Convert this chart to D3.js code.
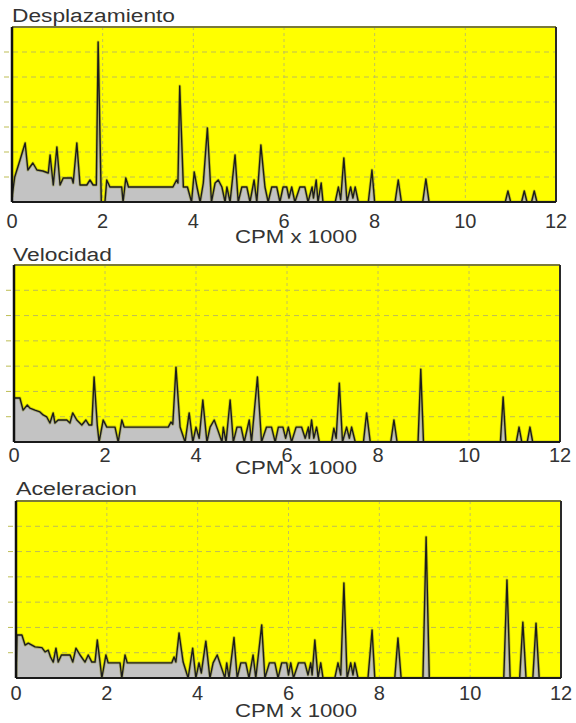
<!DOCTYPE html>
<html>
<head>
<meta charset="utf-8">
<script src="https://cdn.jsdelivr.net/npm/d3@7"></script>
<style>
  body { margin: 0; background: #fff; }
  svg { display: block; font-family: "Liberation Sans", Arial, sans-serif; }
</style>
</head>
<body>
<div id="chart"></div>
<script>
// x tick labels (CPM x 1000)
var xTicks = [0, 2, 4, 6, 8, 10, 12];
var yGridSteps = [1, 2, 3, 4, 5, 6];

// spectra: [CPM x 1000, amplitude in grid divisions]
var desplazamiento = [
  [0,0.2],[0.06,1.0],[0.18,1.7],[0.29,2.36],[0.35,1.28],[0.46,1.56],[0.55,1.28],[0.68,1.24],
  [0.8,1.16],[0.84,1.88],[0.91,0.68],[0.99,2.2],[1.06,0.68],[1.13,0.96],[1.32,0.96],[1.35,0.76],
  [1.43,2.36],[1.5,0.68],[1.65,0.68],[1.72,0.88],[1.79,0.68],[1.86,0.68],[1.9,6.4],[1.97,0],
  [2.05,0],[2.09,0.88],[2.16,0.6],[2.42,0.6],[2.45,0],[2.51,0.96],[2.57,0.6],[3.55,0.6],
  [3.63,0.88],[3.66,0.76],[3.7,4.64],[3.78,0.6],[3.87,0.6],[3.96,0],[4.02,1.2],[4.08,0.6],
  [4.15,0],[4.22,0.76],[4.31,2.96],[4.4,0],[4.48,0.76],[4.55,0.88],[4.63,0.6],[4.7,0],
  [4.74,0.6],[4.81,0],[4.92,1.88],[4.99,0],[5.07,0.6],[5.18,0.6],[5.25,0],[5.34,0.88],
  [5.4,0],[5.49,2.28],[5.58,0.6],[5.65,0],[5.73,0.6],[5.84,0.6],[5.91,0],[5.98,0.6],
  [6.06,0.6],[6.11,0.16],[6.17,0.6],[6.24,0],[6.35,0.6],[6.46,0.6],[6.53,0],[6.62,0.6],
  [6.65,0.16],[6.71,0.88],[6.75,0],[6.82,0.76],[6.86,0],[7.13,0],[7.2,0.6],[7.25,0.1],
  [7.32,1.76],[7.39,0],[7.47,0.6],[7.52,0.16],[7.57,0.6],[7.64,0],[7.86,0],[7.94,1.28],
  [8.0,0],[8.45,0],[8.52,0.88],[8.59,0],[9.06,0],[9.13,0.92],[9.2,0],[10.88,0],
  [10.94,0.44],[11.0,0],[11.24,0],[11.3,0.44],[11.36,0],[11.46,0],[11.52,0.44],[11.58,0],[12,0]
];

var velocidad = [
  [0,1.74],[0.13,1.74],[0.2,1.26],[0.29,1.46],[0.35,1.34],[0.46,1.26],[0.57,1.19],[0.64,1.07],
  [0.72,0.99],[0.79,0.75],[0.86,1.15],[0.9,0.75],[0.97,0.87],[1.16,0.87],[1.23,0.75],[1.29,1.15],
  [1.38,0.87],[1.49,0.67],[1.58,0.87],[1.65,0.67],[1.71,0.67],[1.76,2.57],[1.83,0.67],[1.87,0],
  [1.96,0.87],[2.04,0.59],[2.22,0.59],[2.29,0],[2.37,0.87],[2.42,0.59],[3.39,0.59],[3.45,0.79],
  [3.49,0.7],[3.56,2.96],[3.65,0.59],[3.76,0],[3.85,1.15],[3.93,0],[4.0,0.59],[4.07,0.15],
  [4.15,1.66],[4.24,0],[4.31,0.59],[4.4,0.87],[4.48,0.47],[4.57,0],[4.6,0.59],[4.66,0],
  [4.75,1.66],[4.82,0],[4.9,0.59],[4.99,0.59],[5.06,0],[5.17,0.87],[5.22,0],[5.35,2.57],
  [5.44,0],[5.55,0.59],[5.66,0.59],[5.74,0],[5.81,0.59],[5.91,0.59],[5.97,0.15],[6.03,0.59],
  [6.1,0],[6.2,0.59],[6.32,0.59],[6.4,0.15],[6.47,0.59],[6.49,0.15],[6.54,0.87],[6.59,0.15],
  [6.65,0.59],[6.71,0],[6.98,0],[7.03,0.55],[7.08,0.15],[7.15,2.33],[7.22,0],[7.31,0.59],
  [7.37,0.15],[7.42,0.59],[7.5,0],[7.68,0],[7.75,1.15],[7.83,0],[8.28,0],[8.35,0.87],
  [8.42,0],[8.88,0],[8.94,2.88],[9.0,0],[10.69,0],[10.75,1.78],[10.81,0],[11.04,0],
  [11.1,0.59],[11.16,0],[11.28,0],[11.34,0.59],[11.4,0],[12,0]
];

var aceleracion = [
  [0,0],[0.02,1.7],[0.13,1.7],[0.2,1.3],[0.27,1.38],[0.35,1.3],[0.42,1.23],[0.57,1.2],
  [0.64,1.03],[0.71,1.1],[0.76,0.83],[0.82,0.63],[0.88,1.18],[0.93,0.63],[1.0,0.91],[1.19,0.91],
  [1.25,0.63],[1.32,1.18],[1.41,0.91],[1.52,0.63],[1.59,0.91],[1.67,0.63],[1.74,0.63],[1.79,1.5],
  [1.85,0.63],[1.89,0],[1.98,0.91],[2.03,0.6],[2.29,0.6],[2.33,0],[2.4,0.91],[2.45,0.6],
  [3.43,0.6],[3.48,0.83],[3.52,0.63],[3.59,1.78],[3.68,0.63],[3.79,0],[3.89,1.18],[3.96,0],
  [4.03,0.6],[4.08,0.2],[4.18,1.46],[4.27,0],[4.34,0.6],[4.43,0.91],[4.52,0.43],[4.6,0],
  [4.64,0.6],[4.69,0],[4.8,1.6],[4.87,0],[4.95,0.6],[5.06,0.6],[5.13,0],[5.22,0.91],
  [5.28,0],[5.41,2.1],[5.48,0],[5.58,0.6],[5.7,0.6],[5.77,0],[5.85,0.6],[5.96,0.6],
  [6.0,0.12],[6.05,0.6],[6.11,0],[6.22,0.6],[6.36,0.6],[6.43,0.12],[6.49,0.6],[6.52,0.12],
  [6.58,1.5],[6.65,0],[6.71,0.6],[6.76,0],[7.02,0],[7.09,0.6],[7.15,0.12],[7.22,3.76],
  [7.29,0],[7.37,0.6],[7.42,0.12],[7.46,0.6],[7.53,0],[7.75,0],[7.84,1.9],[7.9,0],
  [8.34,0],[8.41,1.58],[8.48,0],[8.96,0],[9.03,5.58],[9.1,0],[10.74,0],[10.81,3.88],
  [10.88,0],[11.09,0],[11.16,2.21],[11.23,0],[11.38,0],[11.45,2.17],[11.52,0],[12,0]
];

var panels = [
  { title: "Desplazamiento", data: desplazamiento, left: 12, right: 556, top: 27, bottom: 202,
    titleX: 12, titleY: 22, titleW: 163, tickY: 228, labelY: 243 },
  { title: "Velocidad", data: velocidad, left: 14, right: 560, top: 265, bottom: 442,
    titleX: 13, titleY: 261, titleW: 99, tickY: 462, labelY: 474 },
  { title: "Aceleracion", data: aceleracion, left: 16, right: 561, top: 501, bottom: 678,
    titleX: 16, titleY: 495, titleW: 121, tickY: 700, labelY: 717 }
];

var svg = d3.select("#chart")
  .append("svg")
  .attr("width", 576)
  .attr("height", 723);

panels.forEach(function (p, i) {
  var x = d3.scaleLinear().domain([0, 12]).range([p.left, p.right]);
  var y = d3.scaleLinear().domain([0, 7]).range([p.bottom, p.top]);
  var g = svg.append("g");

  // background
  g.append("rect")
    .attr("x", p.left).attr("y", p.top)
    .attr("width", p.right - p.left).attr("height", p.bottom - p.top)
    .attr("fill", "#ffff00");

  // horizontal gridlines + small ticks on the left
  g.selectAll(".hgrid").data(yGridSteps).enter().append("line")
    .attr("x1", p.left - 8).attr("x2", p.right)
    .attr("y1", function (d) { return y(d); })
    .attr("y2", function (d) { return y(d); })
    .attr("stroke", "#bdbd55")
    .attr("stroke-width", 1)
    .attr("stroke-dasharray", "5,4");

  // vertical gridlines
  g.selectAll(".vgrid").data(xTicks.slice(1, -1)).enter().append("line")
    .attr("x1", function (d) { return x(d); })
    .attr("x2", function (d) { return x(d); })
    .attr("y1", p.top).attr("y2", p.bottom)
    .attr("stroke", "#c2c25a")
    .attr("stroke-width", 1)
    .attr("stroke-dasharray", "3,3");

  // spectrum
  var clipId = "clip" + i;
  g.append("clipPath").attr("id", clipId)
    .append("rect")
    .attr("x", p.left).attr("y", p.top)
    .attr("width", p.right - p.left).attr("height", p.bottom - p.top);

  var area = d3.area()
    .x(function (d) { return x(d[0]); })
    .y0(y(0))
    .y1(function (d) { return y(d[1]); });

  var line = d3.line()
    .x(function (d) { return x(d[0]); })
    .y(function (d) { return y(d[1]); });

  g.append("path")
    .datum(p.data)
    .attr("clip-path", "url(#" + clipId + ")")
    .attr("fill", "#c3c3c3")
    .attr("d", area);

  g.append("path")
    .datum(p.data)
    .attr("clip-path", "url(#" + clipId + ")")
    .attr("fill", "none")
    .attr("stroke", "#8a8a20")
    .attr("stroke-width", 3)
    .attr("stroke-opacity", 0.45)
    .attr("stroke-linejoin", "round")
    .attr("d", line);

  g.append("path")
    .datum(p.data)
    .attr("clip-path", "url(#" + clipId + ")")
    .attr("fill", "none")
    .attr("stroke", "#1c1c1c")
    .attr("stroke-width", 1.4)
    .attr("stroke-linejoin", "round")
    .attr("d", line);

  // frame
  g.append("line")
    .attr("x1", p.left).attr("x2", p.right)
    .attr("y1", p.top).attr("y2", p.top)
    .attr("stroke", "#7a7a3a").attr("stroke-width", 2);
  g.append("line")
    .attr("x1", p.right).attr("x2", p.right)
    .attr("y1", p.top).attr("y2", p.bottom)
    .attr("stroke", "#2a2a2a").attr("stroke-width", 2);
  g.append("line")
    .attr("x1", p.left).attr("x2", p.right)
    .attr("y1", p.bottom).attr("y2", p.bottom)
    .attr("stroke", "#1a1a1a").attr("stroke-width", 2);
  g.append("line")
    .attr("x1", p.left).attr("x2", p.left)
    .attr("y1", p.top).attr("y2", p.bottom)
    .attr("stroke", "#111").attr("stroke-width", 2.5);

  // x axis tick labels
  g.selectAll(".tick").data(xTicks).enter().append("text")
    .attr("x", function (d) { return x(d); })
    .attr("y", p.tickY)
    .attr("text-anchor", "middle")
    .attr("font-size", 20)
    .attr("fill", "#333")
    .text(function (d) { return d; });

  // x axis label
  g.append("text")
    .attr("x", 296)
    .attr("y", p.labelY)
    .attr("text-anchor", "middle")
    .attr("font-size", 19)
    .attr("fill", "#333")
    .attr("textLength", 122)
    .attr("lengthAdjust", "spacingAndGlyphs")
    .text("CPM x 1000");

  // panel title
  g.append("text")
    .attr("x", p.titleX)
    .attr("y", p.titleY)
    .attr("font-size", 18)
    .attr("fill", "#333")
    .attr("textLength", p.titleW)
    .attr("lengthAdjust", "spacingAndGlyphs")
    .text(p.title);
});
</script>
</body>
</html>
